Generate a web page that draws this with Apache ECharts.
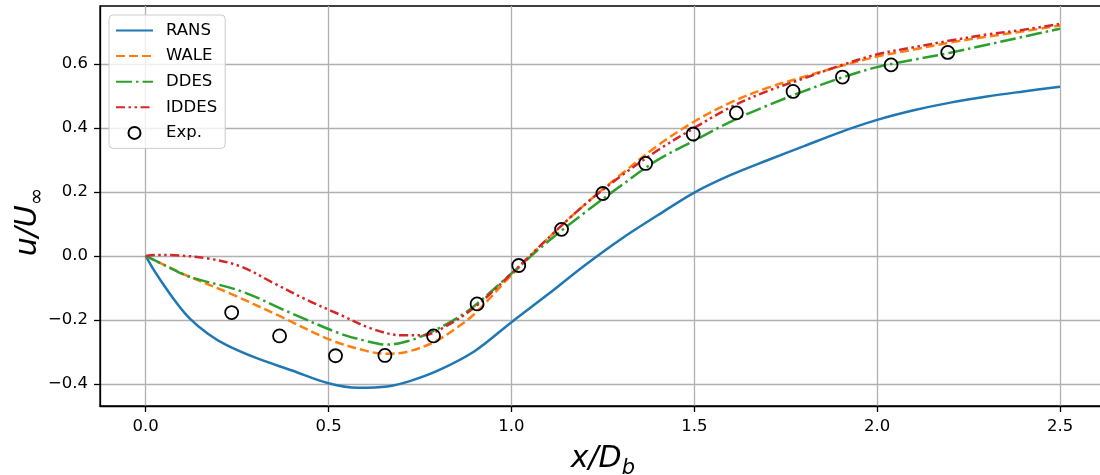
<!DOCTYPE html>
<html><head><meta charset="utf-8">
<script src="https://cdn.jsdelivr.net/npm/echarts@6/dist/echarts.min.js"></script>
<style>html,body{margin:0;padding:0;background:#fff}#c{width:1100px;height:475px}</style>
</head><body><div id="c"></div>
<script>
const ransX = [0, 0.02, 0.04, 0.08, 0.12, 0.17, 0.22, 0.3, 0.4, 0.5, 0.58, 0.66, 0.72, 0.8, 0.9, 1.0, 1.1, 1.2, 1.3, 1.4, 1.5, 1.6, 1.7, 1.8, 1.9, 2.0, 2.1, 2.2, 2.3, 2.4, 2.5];
const ransY = [0, -0.04, -0.075, -0.14, -0.195, -0.243, -0.278, -0.318, -0.358, -0.398, -0.412, -0.408, -0.392, -0.358, -0.297, -0.207, -0.12, -0.03, 0.053, 0.127, 0.198, 0.253, 0.299, 0.343, 0.387, 0.425, 0.455, 0.479, 0.498, 0.514, 0.529];

const waleX = [0, 0.05, 0.12, 0.23, 0.37, 0.5, 0.6, 0.66, 0.72, 0.79, 0.85, 0.9, 1.0, 1.1, 1.2, 1.3, 1.4, 1.5, 1.6, 1.7, 1.8, 1.9, 2.0, 2.1, 2.2, 2.3, 2.4, 2.5];
const waleY = [0, -0.028, -0.065, -0.117, -0.19, -0.26, -0.296, -0.306, -0.298, -0.268, -0.225, -0.18, -0.06, 0.055, 0.16, 0.255, 0.345, 0.42, 0.48, 0.525, 0.56, 0.593, 0.623, 0.645, 0.667, 0.685, 0.702, 0.72];

const ddesX = [0, 0.05, 0.12, 0.26, 0.4, 0.53, 0.6, 0.66, 0.72, 0.78, 0.85, 0.9, 1.0, 1.1, 1.2, 1.3, 1.4, 1.5, 1.6, 1.7, 1.8, 1.9, 2.0, 2.1, 2.2, 2.3, 2.4, 2.5];
const ddesY = [0, -0.028, -0.065, -0.11, -0.18, -0.242, -0.265, -0.277, -0.265, -0.238, -0.195, -0.155, -0.055, 0.045, 0.135, 0.22, 0.3, 0.36, 0.42, 0.47, 0.515, 0.556, 0.59, 0.613, 0.635, 0.66, 0.685, 0.71];

const iddesX = [0, 0.03, 0.08, 0.17, 0.26, 0.35, 0.44, 0.53, 0.62, 0.7, 0.76, 0.82, 0.9, 1.0, 1.1, 1.2, 1.3, 1.4, 1.5, 1.6, 1.7, 1.8, 1.9, 2.0, 2.1, 2.2, 2.3, 2.4, 2.5];
const iddesY = [0, 0.003, 0.002, -0.008, -0.033, -0.085, -0.137, -0.183, -0.228, -0.248, -0.248, -0.22, -0.16, -0.055, 0.055, 0.16, 0.25, 0.33, 0.4, 0.465, 0.515, 0.555, 0.595, 0.63, 0.652, 0.673, 0.692, 0.707, 0.725];

const expX = [0.235, 0.366, 0.519, 0.654, 0.787, 0.906, 1.020, 1.137, 1.250, 1.367, 1.497, 1.615, 1.770, 1.905, 2.038, 2.193];
const expY = [-0.177, -0.25, -0.312, -0.311, -0.25, -0.15, -0.030, 0.083, 0.195, 0.289, 0.381, 0.447, 0.514, 0.559, 0.597, 0.636];

const xTicks = [0, 0.5, 1.0, 1.5, 2.0, 2.5];
const yTicks = [-0.4, -0.2, 0.0, 0.2, 0.4, 0.6];
const seriesNames = ['RANS', 'WALE', 'DDES', 'IDDES', 'Exp.'];

const zip = (a, b) => a.map((v, i) => [v, b[i]]);
const fmt = v => (v < -1e-9 ? '\u2212' : '') + Math.abs(v).toFixed(1);
const FONT = 'DejaVu Sans';

const chart = echarts.init(document.getElementById('c'), null, {renderer: 'canvas'});

const axisCommon = {
  type: 'value',
  axisLine: {show: true, onZero: false, lineStyle: {color: '#000', width: 1.3}},
  axisTick: {show: true, inside: false, length: 6, lineStyle: {color: '#000', width: 1.3}},
  splitLine: {show: true, lineStyle: {color: '#b0b0b0', width: 1.3}},
  axisLabel: {fontFamily: FONT, fontSize: 16.5, color: '#000', margin: 12, formatter: fmt}
};

const lineSeries = (name, xs, ys, color, dash, z) => ({
  name, type: 'line', data: zip(xs, ys), showSymbol: false, symbol: 'none',
  smooth: 0.35, clip: true, z,
  lineStyle: {color, width: 2.5, type: dash},
  itemStyle: {color},
  emphasis: {disabled: true}, animation: false
});

chart.setOption({
  animation: false,
  backgroundColor: '#fff',
  grid: {left: 100, top: 6, width: 1005.75, height: 400, containLabel: false, outerBoundsMode: 'none',
         show: true, borderColor: '#000', borderWidth: 1.3, backgroundColor: 'transparent'},
  xAxis: Object.assign({}, axisCommon, {
    min: -0.125, max: 2.625,
    axisTick: Object.assign({}, axisCommon.axisTick, {customValues: xTicks}),
    axisLabel: Object.assign({}, axisCommon.axisLabel, {customValues: xTicks}),
    name: '{i|x/D}{s|b}', nameLocation: 'middle', nameGap: 33, nameMoveOverlap: false,
    nameTextStyle: {
      rich: {
        i: {fontFamily: FONT, fontStyle: 'italic', fontSize: 30, color: '#000', lineHeight: 40, verticalAlign: 'middle'},
        s: {fontFamily: FONT, fontStyle: 'italic', fontSize: 21, color: '#000', lineHeight: 21, verticalAlign: 'bottom'}
      }
    }
  }),
  yAxis: Object.assign({}, axisCommon, {
    min: -0.469, max: 0.781,
    axisTick: Object.assign({}, axisCommon.axisTick, {customValues: yTicks}),
    axisLabel: Object.assign({}, axisCommon.axisLabel, {customValues: yTicks}),
    name: '{i|u/U}{s|\u221e}', nameLocation: 'middle', nameGap: 52, nameRotate: 90, nameMoveOverlap: false,
    nameTextStyle: {
      padding: [0, 32, 0, 0],
      rich: {
        i: {fontFamily: FONT, fontStyle: 'italic', fontSize: 30, color: '#000', lineHeight: 40, verticalAlign: 'middle'},
        s: {fontFamily: FONT, fontSize: 21, color: '#000', lineHeight: 21, verticalAlign: 'bottom'}
      }
    }
  }),
  legend: {
    orient: 'vertical', left: 109, top: 15, padding: [7, 8, 7, 6],
    itemWidth: 37, itemHeight: 12, itemGap: 8.6,
    backgroundColor: 'rgba(255,255,255,0.8)', borderColor: '#cccccc', borderWidth: 1, borderRadius: 4,
    textStyle: {fontFamily: FONT, fontSize: 16.5, color: '#000', lineHeight: 16, padding: [0, 0, 0, 8]},
    data: seriesNames.map((n, i) => i < 4 ? {name: n, itemStyle: {opacity: 0}} : {name: n}),
    selectedMode: false
  },
  series: [
    lineSeries(seriesNames[0], ransX, ransY, '#1f77b4', 'solid', 2),
    lineSeries(seriesNames[1], waleX, waleY, '#ff7f0e', [9, 4], 3),
    lineSeries(seriesNames[2], ddesX, ddesY, '#2ca02c', [16, 4, 2.5, 4], 4),
    lineSeries(seriesNames[3], iddesX, iddesY, '#d62728', [9, 3.5, 2.5, 3.5, 2.5, 3.5], 5),
    {
      name: seriesNames[4], type: 'scatter', data: zip(expX, expY), symbol: 'circle', symbolSize: 13, z: 6,
      itemStyle: {color: 'rgba(0,0,0,0)', borderColor: '#000', borderWidth: 1.8, opacity: 1},
      emphasis: {disabled: true}
    }
  ]
});
</script></body></html>
